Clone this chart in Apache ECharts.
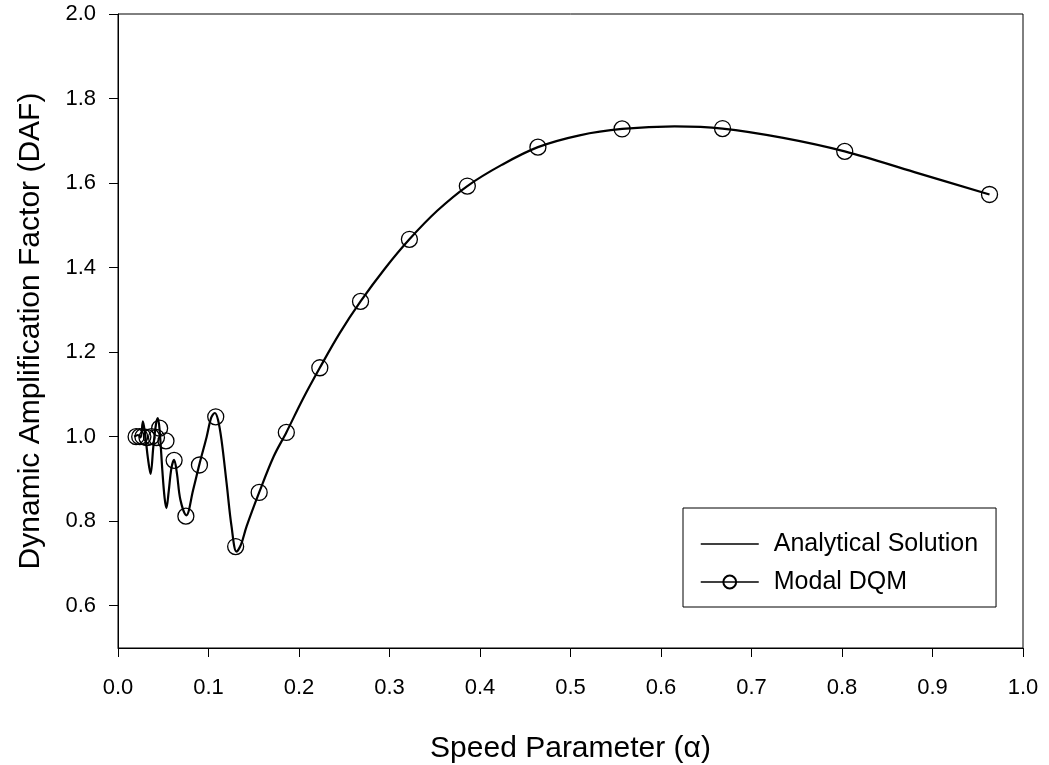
<!DOCTYPE html>
<html>
<head>
<meta charset="utf-8">
<script src="https://cdn.jsdelivr.net/npm/echarts@6/dist/echarts.min.js"></script>
<style>
html,body{margin:0;padding:0;background:#fff;}
#chart{width:1049px;height:765px;}
</style>
</head>
<body>
<div id="chart"></div>
<script>
// ---- data ----
const xTicks = [0.0,0.1,0.2,0.3,0.4,0.5,0.6,0.7,0.8,0.9,1.0];
const yTicks = [0.6,0.8,1.0,1.2,1.4,1.6,1.8,2.0];

const analyticalAlpha = [0.018,0.022,0.025,0.0275,0.030,0.033,0.036,0.039,0.042,0.044,0.046,0.049,0.0515,0.0535,0.056,0.059,0.062,0.065,0.069,0.0755,0.083,0.090,0.098,0.103,0.107,0.1105,0.1145,0.120,0.1255,0.131,0.136,0.142,0.156,0.172,0.186,0.204,0.223,0.245,0.268,0.295,0.322,0.353,0.386,0.424,0.464,0.510,0.557,0.615,0.668,0.735,0.803,0.880,0.963];
const analyticalDAF   = [1.000,1.004,0.998,1.036,1.005,0.950,0.912,0.975,1.030,1.044,1.015,0.920,0.855,0.831,0.870,0.925,0.945,0.915,0.850,0.814,0.874,0.935,1.000,1.045,1.056,1.040,0.990,0.890,0.787,0.728,0.745,0.787,0.868,0.953,1.010,1.088,1.163,1.245,1.320,1.398,1.467,1.535,1.593,1.643,1.685,1.713,1.728,1.734,1.729,1.707,1.675,1.626,1.573];

const dqmAlpha = [0.020,0.024,0.0275,0.032,0.037,0.0425,0.046,0.053,0.062,0.075,0.090,0.108,0.130,0.156,0.186,0.223,0.268,0.322,0.386,0.464,0.557,0.668,0.803,0.963];
const dqmDAF   = [1.000,1.000,1.000,0.998,1.000,0.998,1.020,0.990,0.944,0.812,0.933,1.047,0.740,0.868,1.010,1.163,1.320,1.467,1.593,1.685,1.728,1.729,1.675,1.573];

const FONT = "'Liberation Sans', Arial, sans-serif";

const chart = echarts.init(document.getElementById('chart'), null, {renderer:'canvas'});
chart.setOption({
  animation:false,
  backgroundColor:'#fff',
  grid:{left:118,right:26,top:14,bottom:117,containLabel:false,outerBoundsMode:'none',show:true,borderColor:'#000',borderWidth:1,backgroundColor:'transparent'},
  legend:{
    orient:'vertical',
    left:683, top:508,
    padding:[22,18,11,17],
    borderColor:'#000', borderWidth:1,
    itemWidth:58, itemHeight:16, itemGap:10,
    textStyle:{fontFamily:FONT,fontSize:25,color:'#000',padding:[0,0,0,10],lineHeight:28},
    data:[
      {name:'Analytical Solution', itemStyle:{opacity:0}, lineStyle:{width:1.5,opacity:1,color:'#000'}},
      {name:'Modal DQM', lineStyle:{width:1.5,opacity:1,color:'#000'}}
    ]
  },
  xAxis:{
    type:'value', min:0, max:1, interval:0.1,
    name:'Speed Parameter (\u03b1)', nameLocation:'middle', nameGap:86,
    nameTextStyle:{fontFamily:FONT,fontSize:30,color:'#000'},
    axisLine:{show:true,onZero:false,lineStyle:{color:'#000',width:1}},
    axisTick:{show:true,inside:false,length:9,lineStyle:{color:'#000'},customValues:xTicks},
    axisLabel:{fontFamily:FONT,fontSize:22,color:'#000',margin:29,customValues:xTicks,formatter:v=>v.toFixed(1)},
    splitLine:{show:false}
  },
  yAxis:{
    type:'value', min:0.5, max:2.0,
    name:'Dynamic Amplification Factor (DAF)', nameLocation:'middle', nameGap:72,
    nameTextStyle:{fontFamily:FONT,fontSize:30,color:'#000'},
    axisLine:{show:true,onZero:false,lineStyle:{color:'#000',width:1}},
    axisTick:{show:true,inside:false,length:9,lineStyle:{color:'#000'},customValues:yTicks},
    axisLabel:{fontFamily:FONT,fontSize:22,color:'#000',margin:22,customValues:yTicks,formatter:v=>v.toFixed(1)},
    splitLine:{show:false}
  },
  series:[
    {
      name:'Analytical Solution', type:'line', smooth:0.35, showSymbol:false, symbol:'none',
      data:analyticalAlpha.map((a,i)=>[a,analyticalDAF[i]]),
      lineStyle:{color:'#000',width:2.2},
      itemStyle:{color:'#000'},
      z:2
    },
    {
      name:'Modal DQM', type:'line', symbol:'circle', symbolSize:16, showSymbol:true,
      data:dqmAlpha.map((a,i)=>[a,dqmDAF[i]]),
      lineStyle:{opacity:0,width:0,color:'#000'},
      itemStyle:{color:'rgba(255,255,255,0)',borderColor:'#000',borderWidth:1.3},
      z:3
    }
  ]
});
</script>
</body>
</html>
